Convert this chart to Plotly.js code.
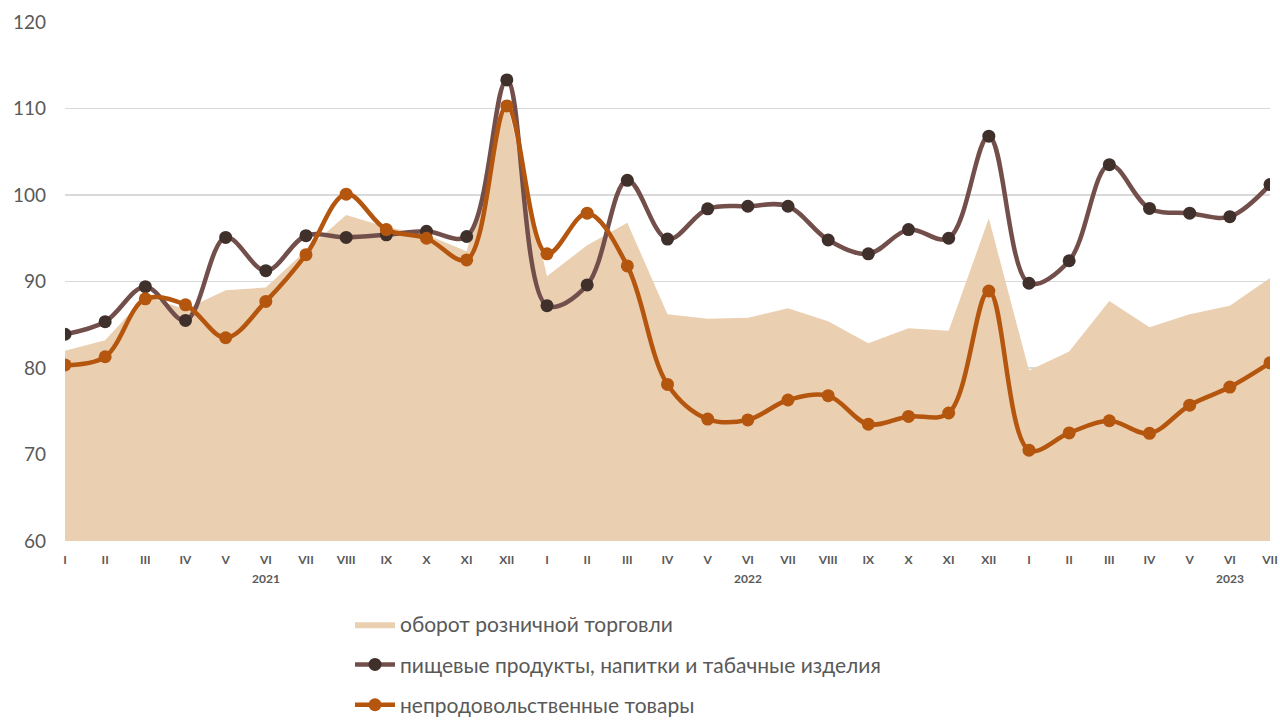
<!DOCTYPE html>
<html>
<head>
<meta charset="utf-8">
<script src="https://cdn.plot.ly/plotly-3.0.1.min.js"></script>
<style>html,body{margin:0;padding:0;background:#fff}#chart{width:1280px;height:720px}</style>
</head>
<body>
<div id="chart"></div>
<script>
const months = ["I","II","III","IV","V","VI","VII","VIII","IX","X","XI","XII",
                "I","II","III","IV","V","VI","VII","VIII","IX","X","XI","XII",
                "I","II","III","IV","V","VI","VII"];
const years = ["2021","2022","2023"];
const yearPos = [5, 17, 29];

const retail = [82.0,83.2,88.3,86.8,89.0,89.3,93.6,97.7,96.3,95.4,93.5,110.8,
                90.6,94.2,96.8,86.2,85.7,85.8,86.9,85.4,82.85,84.6,84.3,97.3,
                79.7,81.9,87.75,84.7,86.2,87.2,90.4];
const food = [83.9,85.35,89.4,85.5,95.1,91.25,95.3,95.1,95.4,95.8,95.2,113.3,
              87.2,89.6,101.7,94.9,98.4,98.7,98.7,94.8,93.2,96.0,95.0,106.8,
              89.8,92.4,103.5,98.45,97.9,97.5,101.2];
const nonfood = [80.35,81.3,88.0,87.3,83.5,87.7,93.1,100.1,96.0,95.0,92.5,110.3,
                 93.2,97.9,91.8,78.1,74.1,74.0,76.3,76.8,73.5,74.4,74.8,88.9,
                 70.5,72.5,73.9,72.45,75.7,77.8,80.6];
const names = ["оборот розничной торговли",
               "пищевые продукты, напитки и табачные изделия",
               "непродовольственные товары"];

const idx = months.map((m,i)=>i);

const traces = [
  {x: idx, y: retail, name: names[0], type: "scatter", mode: "lines", legendgroup: "a",
   fill: "tozeroy", fillcolor: "#EBCFB1", line: {width: 0, color: "#EBCFB1"}},
  {x: idx, y: food, name: names[1], type: "scatter", mode: "lines+markers", legendgroup: "b",
   line: {color: "#734F4C", width: 4.5, shape: "spline", smoothing: 1},
   marker: {color: "#3F302B", size: 13}},
  {x: idx, y: nonfood, name: names[2], type: "scatter", mode: "lines+markers", legendgroup: "c",
   line: {color: "#B5560F", width: 4.5, shape: "spline", smoothing: 1},
   marker: {color: "#B5560F", size: 13}}
];

const font = "Lato, 'Open Sans', sans-serif";
const plotW = 1205, plotH = 519, plotL = 65, plotT = 22;

const layout = {
  width: 1280, height: 720,
  margin: {l: 65, r: 10, t: 22, b: 179, autoexpand: false},
  paper_bgcolor: "#fff", plot_bgcolor: "#fff",
  font: {family: font, color: "#595959"},
  showlegend: true,
  legend: {
    xref: "paper", yref: "paper",
    x: (350 - plotL) / plotW, y: -(604 - plotT - plotH) / plotH,
    xanchor: "left", yanchor: "top",
    orientation: "v", font: {size: 21, color: "#595959", family: font},
    itemwidth: 40, tracegroupgap: 10, traceorder: "grouped",
    bgcolor: "rgba(0,0,0,0)"
  },
  xaxis: {
    range: [0, 30], tickmode: "array", tickvals: idx, ticktext: months,
    tickangle: 0, automargin: false,
    showgrid: false, zeroline: false, showline: false, ticks: "",
    tickfont: {size: 12, color: "#595959", family: font, weight: "bold"},
    ticklabelstandoff: 10, fixedrange: true
  },
  yaxis: {
    range: [60, 120], dtick: 10, tick0: 60, automargin: false,
    showgrid: true, gridcolor: "#D9D9D9", gridwidth: 1.5,
    zeroline: false, showline: false, ticks: "",
    tickfont: {size: 19, color: "#595959", family: font},
    ticklabelstandoff: 18, fixedrange: true
  },
  annotations: years.map((y,i)=>({
    x: yearPos[i], xref: "x", y: 0, yref: "paper", yanchor: "middle", yshift: -37,
    text: "<b>" + y + "</b>", showarrow: false,
    font: {size: 12, color: "#595959", family: font}
  }))
};

Plotly.newPlot("chart", traces, layout, {displayModeBar: false, staticPlot: true});
</script>
</body>
</html>
